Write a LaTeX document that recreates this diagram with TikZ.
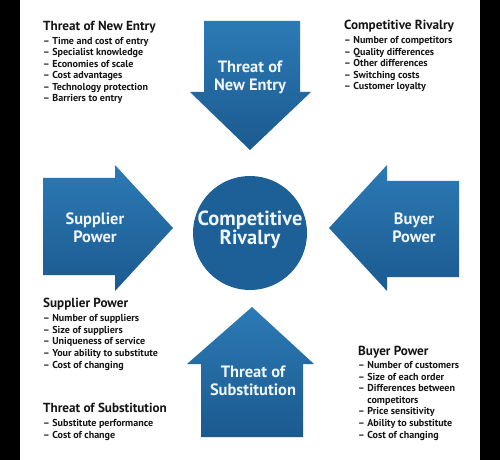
\documentclass[tikz,border=0pt]{standalone}
\usepackage{fontspec}
\setmainfont{PT Sans}
\usetikzlibrary{shadings}
\definecolor{blueTop}{HTML}{2C7AB5}
\definecolor{blueBot}{HTML}{1B5A8F}
\definecolor{circBlue}{HTML}{1C6097}
\definecolor{txtDark}{HTML}{151515}
\definecolor{txtLight}{HTML}{F0F5FA}
\tikzset{
  arrowshape/.style={top color=blueTop, bottom color=blueBot, draw=none},
  arrowlabel/.style={text=txtLight, font=\fontsize{16.5}{19}\selectfont\bfseries, align=center, inner sep=0pt, anchor=base},
  infoblock/.style={text=txtDark, anchor=base west, align=left, inner sep=0pt,
     font=\fontsize{10.1}{11.6}\selectfont\bfseries},
}
\newcommand{\hd}[1]{{\fontsize{13.2}{14}\selectfont #1}}
\begin{document}
\begin{tikzpicture}[x=1bp,y=-1bp]
\useasboundingbox (0,0) rectangle (500,460);
\fill[white] (0,0) rectangle (500,460);
\fill[black] (0,0) rectangle (20,460);
\fill[black] (480,0) rectangle (500,460);
% top arrow (down)
\path[arrowshape] (204,21) -- (300,21) -- (300,92) -- (311,92) -- (250,150) -- (190,92) -- (204,92) -- cycle;
% bottom arrow (up)
\path[arrowshape] (201,437) -- (303,437) -- (303,364) -- (314,364) -- (252,307) -- (187,364) -- (201,364) -- cycle;
% left arrow (right)
\path[arrowshape] (43,178) -- (115,178) -- (115,165) -- (173,228) -- (115,291) -- (115,275) -- (43,275) -- cycle;
% right arrow (left)
\path[arrowshape] (459,181) -- (387,181) -- (387,165) -- (329,228) -- (387,291) -- (387,277) -- (459,277) -- cycle;
% circle
\node[circle, fill=circBlue, minimum size=114bp, inner sep=0pt] (core) at (250,233) {};
\node[text=txtLight, font=\fontsize{20.5}{20}\selectfont\bfseries, align=center, anchor=base, inner sep=0pt] (coretext) at (250,245) {Competitive\\Rivalry};
% arrow labels
\node[arrowlabel] (newentry) at (250,91) {Threat of\\New Entry};
\node[arrowlabel, font=\fontsize{16.5}{18}\selectfont\bfseries] (subst) at (253,395) {Threat of\\Substitution};
\node[arrowlabel] (supplier) at (95,243) {Supplier\\Power};
\node[arrowlabel] (buyer) at (414,243) {Buyer\\Power};
% info blocks (anchored at the baseline of their last line)
\node[infoblock] (infoNE) at (43,102) {\hd{Threat of New Entry}\\[2.4bp]
– Time and cost of entry\\
– Specialist knowledge\\
– Economies of scale\\
– Cost advantages\\
– Technology protection\\
– Barriers to entry};
\node[infoblock] (infoCR) at (344,90) {\hd{Competitive Rivalry}\\[2.4bp]
– Number of competitors\\
– Quality differences\\
– Other differences\\
– Switching costs\\
– Customer loyalty};
\node[infoblock] (infoSP) at (43,368) {\hd{Supplier Power}\\[2.4bp]
– Number of suppliers\\
– Size of suppliers\\
– Uniqueness of service\\
– Your ability to substitute\\
– Cost of changing};
\node[infoblock] (infoTS) at (43,438) {\hd{Threat of Substitution}\\[2.4bp]
– Substitute performance\\
– Cost of change};
\node[infoblock] (infoBP) at (358,438) {\hd{Buyer Power}\\[1.4bp]
– Number of customers\\
– Size of each order\\
– Differences between\\
\phantom{– }competitors\\
– Price sensitivity\\
– Ability to substitute\\
– Cost of changing};
\end{tikzpicture}
\end{document}
